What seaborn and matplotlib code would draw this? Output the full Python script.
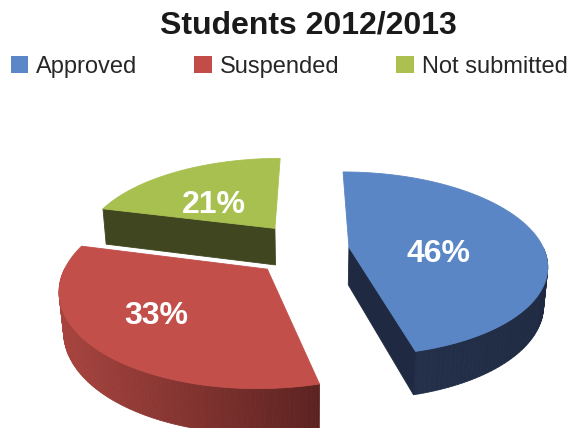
import numpy as np
import matplotlib
matplotlib.use("Agg")
import matplotlib.pyplot as plt
from matplotlib.patches import Patch
from matplotlib.colors import to_rgb
import seaborn as sns

# -------------------------------
# data
# -------------------------------
labels = ["Approved", "Suspended", "Not submitted"]
shares = [46, 33, 21]
pct_labels = ["46%", "33%", "21%"]

# -------------------------------
# style
# -------------------------------
top_colors = ["#5A86C5", "#C24F4A", "#A8C050"]
side_light = ["#27344F", "#A9443F", "#454C23"]
side_dark = ["#1F2A42", "#5C2321", "#404720"]
legend_colors = ["#5B87C8", "#C24C48", "#ABC04F"]
explode = [0.2, 0.3, 0.31]
label_r = [0.47, 0.6, 0.6]
label_turn = [0, -11, 0]  # degrees, nudges label away from the mid angle

sns.set_theme(style="white")
plt.rcParams["font.family"] = ["Liberation Sans", "DejaVu Sans"]

# fake 3d view
ELEV = np.radians(25)
DIST = 5.0
DEPTH = 0.2
XSCALE = 0.92
CX, CY, S = 310.4, 249.4, 212.0
view = np.array([0.0, -np.cos(ELEV), np.sin(ELEV)])


def project(x, y, z):
    den = DIST + y * np.cos(ELEV) - z * np.sin(ELEV)
    X = XSCALE * DIST * x / den
    Y = DIST * (y * np.sin(ELEV) + z * np.cos(ELEV)) / den
    return X, Y


def faces_viewer(normal):
    return np.dot(normal, view) > 1e-6


def mix(c1, c2, t):
    a, b = np.array(to_rgb(c1)), np.array(to_rgb(c2))
    return tuple(a + (b - a) * t)


fig = plt.figure(figsize=(5.76, 4.28), dpi=100)
ax = fig.add_axes([0, 0, 1, 1])
ax.set_xlim((0 - CX) / S, (576 - CX) / S)
ax.set_ylim((CY - 428) / S, CY / S)
ax.axis("off")

fracs = np.array(shares) / sum(shares)
cum = np.concatenate([[0], np.cumsum(fracs)])
t_start = 90 - 360 * cum[:-1]
t_end = 90 - 360 * cum[1:]
mids = (t_start + t_end) / 2

# far slices first
order = np.argsort(-np.sin(np.radians(mids)))

for i in order:
    t1, t2 = np.radians(t_start[i]), np.radians(t_end[i])
    m = np.radians(mids[i])
    ox, oy = explode[i] * np.cos(m), explode[i] * np.sin(m)

    # outer wall, small strips
    th = np.linspace(t2, t1, 120)
    xs_all = project(ox + np.cos(th), oy + np.sin(th), 0 * th)[0]
    xmin, xmax = xs_all.min(), xs_all.max()
    for k in range(len(th) - 1):
        a, b = th[k], th[k + 1]
        c = (a + b) / 2
        if not faces_viewer(np.array([np.cos(c), np.sin(c), 0])):
            continue
        px = np.array([ox + np.cos(a), ox + np.cos(b), ox + np.cos(b), ox + np.cos(a)])
        py = np.array([oy + np.sin(a), oy + np.sin(b), oy + np.sin(b), oy + np.sin(a)])
        pz = np.array([0, 0, -DEPTH, -DEPTH])
        X, Y = project(px, py, pz)
        t = (X.mean() - xmin) / (xmax - xmin + 1e-9)
        col = mix(side_light[i], side_dark[i], t)
        ax.fill(X, Y, color=col, lw=0.6, ec=col)

    # cut faces
    for ang, sign in [(t1, 1), (t2, -1)]:
        n = sign * np.array([-np.sin(ang), np.cos(ang), 0])
        if not faces_viewer(n):
            continue
        px = np.array([ox, ox + np.cos(ang), ox + np.cos(ang), ox])
        py = np.array([oy, oy + np.sin(ang), oy + np.sin(ang), oy])
        pz = np.array([0, 0, -DEPTH, -DEPTH])
        X, Y = project(px, py, pz)
        ax.fill(X, Y, color=side_dark[i], lw=0.6, ec=side_dark[i])

    # top face
    tx = np.concatenate([[ox], ox + np.cos(th[::-1])])
    ty = np.concatenate([[oy], oy + np.sin(th[::-1])])
    X, Y = project(tx, ty, 0 * tx)
    ax.fill(X, Y, color=top_colors[i], lw=0.6, ec=top_colors[i])

    la = m + np.radians(label_turn[i])
    lx, ly = project(ox + label_r[i] * np.cos(la), oy + label_r[i] * np.sin(la), 0.0)
    ax.annotate(pct_labels[i], (lx, ly), xytext=(0, -9), textcoords="offset points",
                color="white", fontsize=23, fontweight="bold", ha="center", va="center")

fig.text(0.535, 1 - 25 / 428, "Students 2012/2013", ha="center", va="center",
         fontsize=23, fontweight="bold", color="#1a1a1a")

handles = [Patch(facecolor=c, edgecolor="none") for c in legend_colors]
fig.legend(handles, labels, loc="center", bbox_to_anchor=(0.502, 1 - 67 / 428), ncol=3,
           frameon=False, fontsize=17, handlelength=0.74, handleheight=0.74,
           handletextpad=0.34, columnspacing=2.4, borderpad=0, borderaxespad=0)

fig.savefig("out.png", dpi=100)
